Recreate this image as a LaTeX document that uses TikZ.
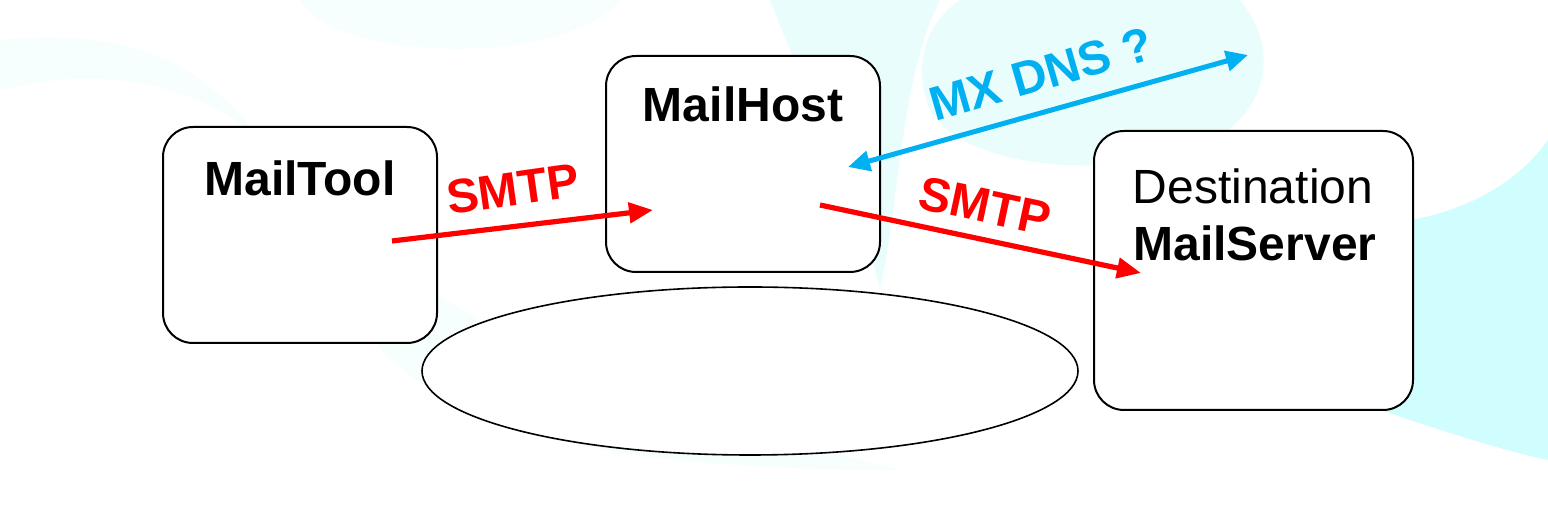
\documentclass[tikz,border=0pt]{standalone}
\usepackage{fontspec}
\setmainfont{Liberation Sans}
\usepackage{tikz}
\usetikzlibrary{arrows.meta,shapes.geometric,positioning}
\definecolor{smtpred}{RGB}{255,0,0}
\definecolor{dnsblue}{RGB}{0,176,240}
\definecolor{swoosh}{RGB}{208,253,253}
\definecolor{swooshpale}{RGB}{234,253,253}
\definecolor{swooshfaint}{RGB}{246,254,254}
\tikzset{
  mail_box/.style = {draw=black, fill=white, rounded corners=15pt,
    line width=1pt, minimum width=137pt, minimum height=108pt},
  mail_pool/.style = {ellipse, draw=black, fill=white, line width=0.8pt,
    minimum width=328pt, minimum height=84pt},
  mail_bold/.style = {font=\fontsize{24}{28}\selectfont\bfseries, anchor=base},
  mail_plain/.style = {font=\fontsize{24}{28}\selectfont, anchor=base},
  smtp_arrow/.style = {draw=smtpred, line width=2.6pt,
    -{Triangle[length=12pt,width=10pt]}},
  dns_arrow/.style = {draw=dnsblue, line width=2.5pt,
    {Triangle[length=11pt,width=10pt]}-{Triangle[length=11pt,width=10pt]}},
  proto_label/.style = {font=\fontsize{24}{28}\selectfont\bfseries, inner sep=0pt}
}
\begin{document}
\begin{tikzpicture}[x=0.5pt, y=-0.5pt]
  \path[use as bounding box] (0,0) rectangle (1548,506);
  % background swooshes
  \fill[swooshfaint] (0,40) .. controls (200,20) and (260,120) .. (330,260)
    .. controls (380,420) and (560,470) .. (900,470)
    .. controls (700,420) and (420,330) .. (300,180)
    .. controls (230,90) and (120,60) .. (0,90) -- cycle;
  \fill[swooshfaint] (300,0) .. controls (330,60) and (560,70) .. (620,0) -- cycle;
  \fill[swooshpale] (770,0) -- (1240,0) .. controls (1290,60) and (1260,140) .. (1160,160)
    .. controls (1060,175) and (960,160) .. (930,110)
    .. controls (910,60) and (930,20) .. (960,0) -- (940,0)
    .. controls (900,80) and (900,200) .. (880,290)
    .. controls (860,200) and (800,80) .. cycle;
  \fill[swoosh] (1410,220) .. controls (1470,210) and (1520,180) .. (1548,140)
    -- (1548,460) .. controls (1500,450) and (1440,430) .. (1380,410) -- cycle;
  % boxes
  \node[mail_box] (tool) at (300,235) {};
  \node[mail_box] (host) at (743,164) {};
  \node[mail_box, minimum width=159.5pt, minimum height=139.5pt] (dest) at (1253.5,270.5) {};
  \node[mail_pool] (pool) at (750,371) {};
  % box texts
  \node[mail_bold] (tooltxt) at (300,196) {MailTool};
  \node[mail_bold] (hosttxt) at (743,122) {MailHost};
  \node[mail_plain] (desttxt) at (1253,204) {Destination};
  \node[mail_bold] (servtxt) at (1255,261) {MailServer};
  % arrow ends
  \coordinate (toolout) at (392,241);
  \coordinate (hostin) at (653,210);
  \coordinate (hostout) at (820,205);
  \coordinate (destin) at (1141,273);
  \coordinate (dnsnear) at (848,167);
  \coordinate (dnsfar) at (1248,55);
  \draw[smtp_arrow] (toolout) -- (hostin);
  \draw[smtp_arrow] (hostout) -- (destin);
  \draw[dns_arrow] (dnsnear) -- (dnsfar);
  % labels
  \node[proto_label, text=smtpred, rotate=8] (smtp1) at (513,189) {SMTP};
  \node[proto_label, text=smtpred, rotate=-12] (smtp2) at (985,206) {SMTP};
  \node[proto_label, text=dnsblue, rotate=16] (mxdns) at (1041,74) {MX DNS ?};
\end{tikzpicture}
\end{document}
